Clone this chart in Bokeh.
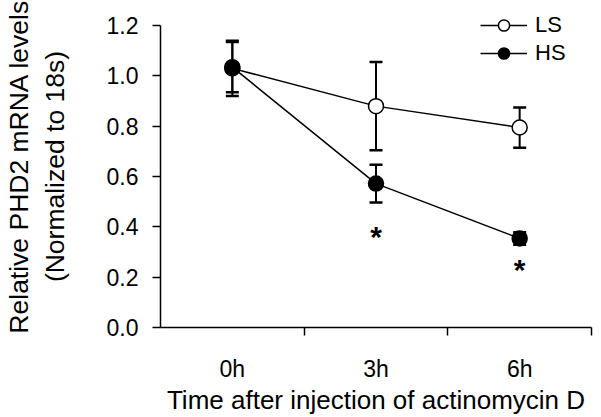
from bokeh.plotting import figure
from bokeh.models import (ColumnDataSource, Whisker, TeeHead, FixedTicker,
                          Legend, LegendItem, Range1d, PrintfTickFormatter)
from bokeh.core.properties import value
from bokeh.embed import file_html
from bokeh.resources import INLINE

# ---- data ----
categories = ["0h", "3h", "6h"]
ls_mean = [1.03, 0.88, 0.795]
ls_err = [0.11, 0.175, 0.08]
hs_mean = [1.035, 0.572, 0.354]
hs_err = [0.10, 0.075, 0.025]
sig_marks = [None, 0.36, 0.232]   # asterisk heights (significance marks under HS)
y_ticks = [0.0, 0.2, 0.4, 0.6, 0.8, 1.0, 1.2]

FONT = "Liberation Sans"

xs = [i + 0.5 for i in range(len(categories))]

ls_src = ColumnDataSource(dict(x=xs, y=ls_mean,
                               lo=[m - e for m, e in zip(ls_mean, ls_err)],
                               hi=[m + e for m, e in zip(ls_mean, ls_err)]))
hs_src = ColumnDataSource(dict(x=xs, y=hs_mean,
                               lo=[m - e for m, e in zip(hs_mean, hs_err)],
                               hi=[m + e for m, e in zip(hs_mean, hs_err)]))

p = figure(frame_width=431, frame_height=322, output_backend="svg",
           toolbar_location=None,
           x_range=Range1d(0, len(categories)), y_range=Range1d(0, 1.28),
           min_border_left=158, min_border_right=10, min_border_top=5,
           min_border_bottom=90)
p.outline_line_color = None
p.xgrid.visible = False
p.ygrid.visible = False

# error bars (beneath markers)
for src in (ls_src, hs_src):
    w = Whisker(source=src, base="x", upper="hi", lower="lo", level="underlay",
                line_color="black", line_width=2,
                upper_head=TeeHead(size=13, line_width=2.5, line_color="black"),
                lower_head=TeeHead(size=13, line_width=2.5, line_color="black"))
    p.add_layout(w)

l1 = p.line("x", "y", source=ls_src, line_color="black", line_width=1.5)
l2 = p.line("x", "y", source=hs_src, line_color="black", line_width=1.5)
m1 = p.scatter("x", "y", source=ls_src, marker="circle", size=15,
               fill_color="white", line_color="black", line_width=1.5)
m2 = p.scatter("x", "y", source=hs_src, marker="circle", size=15,
               fill_color="black", line_color="black", line_width=1.5)

# significance asterisks
sx = [x for x, s in zip(xs, sig_marks) if s is not None]
sy = [s for s in sig_marks if s is not None]
p.text(sx, sy, text=["*"] * len(sx), text_font=value(FONT), text_font_style="bold",
       text_font_size="30px", text_align="center", text_baseline="middle",
       text_color="black")

# legend
legend = Legend(items=[LegendItem(label="LS", renderers=[l1, m1]),
                       LegendItem(label="HS", renderers=[l2, m2])],
                location=(320, 260), orientation="vertical",
                background_fill_alpha=0, border_line_color=None,
                padding=0, margin=0, spacing=0,
                glyph_width=47, glyph_height=28, label_height=28,
                label_standoff=8, label_text_font=FONT,
                label_text_font_size="22px", label_text_color="black")
p.add_layout(legend, "center")

# y axis
p.yaxis.ticker = FixedTicker(ticks=y_ticks)
p.yaxis.formatter = PrintfTickFormatter(format="%.1f")
p.yaxis.bounds = (0, 1.2)
p.yaxis.minor_tick_line_color = None
p.yaxis.major_tick_out = 8
p.yaxis.major_tick_in = 0
p.yaxis.axis_line_width = 1.5
p.yaxis.major_tick_line_width = 1.5
p.yaxis.major_label_text_font = FONT
p.yaxis.major_label_text_font_size = "23px"
p.yaxis.major_label_text_color = "black"
p.yaxis.major_label_standoff = 14
p.yaxis.axis_label = "Relative PHD2 mRNA levels\n(Normalized to 18s)"
p.yaxis.axis_label_text_font = FONT
p.yaxis.axis_label_text_font_size = "26.5px"
p.yaxis.axis_label_text_font_style = "normal"
p.yaxis.axis_label_text_color = "black"
p.yaxis.axis_label_standoff = 34

# x axis
p.xaxis.ticker = FixedTicker(ticks=xs, minor_ticks=[1, 2, 3])
p.xaxis.major_label_overrides = {x: c for x, c in zip(xs, categories)}
p.xaxis.major_tick_out = 0
p.xaxis.major_tick_in = 0
p.xaxis.minor_tick_out = 8
p.xaxis.minor_tick_in = 0
p.xaxis.minor_tick_line_width = 1.5
p.xaxis.axis_line_width = 1.5
p.xaxis.major_label_text_font = FONT
p.xaxis.major_label_text_font_size = "23px"
p.xaxis.major_label_text_color = "black"
p.xaxis.major_label_standoff = 20
p.xaxis.axis_label = "Time after injection of actinomycin D"
p.xaxis.axis_label_text_font = FONT
p.xaxis.axis_label_text_font_size = "26px"
p.xaxis.axis_label_text_font_style = "normal"
p.xaxis.axis_label_text_color = "black"
p.xaxis.axis_label_standoff = 0

open("out.html", "w").write(file_html(p, INLINE))
